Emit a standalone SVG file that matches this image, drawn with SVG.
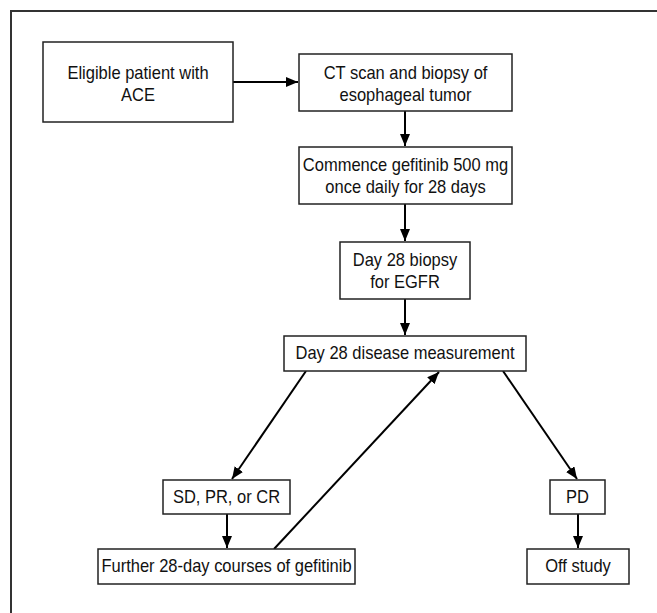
<svg xmlns="http://www.w3.org/2000/svg" width="657" height="613" viewBox="0 0 657 613">
<defs>
<marker id="ah" markerUnits="userSpaceOnUse" markerWidth="13" markerHeight="11" refX="12" refY="5" orient="auto">
<path d="M0,0 L12,5 L0,10 z" fill="#000"/>
</marker>
<style>
.box{fill:#fff;stroke:#222;stroke-width:1.5}
.t{font-family:"Liberation Sans",Arial,sans-serif;font-size:18px;fill:#111;text-anchor:middle}
.c{stroke:#000;stroke-width:2;fill:none;marker-end:url(#ah)}
</style>
</defs>
<rect width="657" height="613" fill="#fff"/>
<g id="frame"><path d="M11,613 V11 H657" fill="none" stroke="#333" stroke-width="2"/></g>
<g id="connectors">
<line class="c" x1="233" y1="82" x2="298" y2="82"/>
<line class="c" x1="405" y1="111" x2="405" y2="146"/>
<line class="c" x1="405" y1="204" x2="405" y2="241"/>
<line class="c" x1="405" y1="299" x2="405" y2="335"/>
<line class="c" x1="306" y1="371" x2="232" y2="479"/>
<line class="c" x1="503" y1="371" x2="577" y2="479"/>
<line class="c" x1="227" y1="514" x2="227" y2="548"/>
<line class="c" x1="578" y1="514" x2="578" y2="548"/>
<line class="c" x1="274" y1="549" x2="439" y2="372"/>
</g>
<g id="n1"><rect class="box" x="43" y="42" width="190" height="80"/><text class="t" transform="matrix(0.917,0,0,1,138,0)" x="0" y="79.5">Eligible patient with</text><text class="t" transform="matrix(0.917,0,0,1,138,0)" x="0" y="101.5">ACE</text></g>
<g id="n2"><rect class="box" x="299" y="54" width="213" height="57"/><text class="t" transform="matrix(0.917,0,0,1,405.5,0)" x="0" y="79.5">CT scan and biopsy of</text><text class="t" transform="matrix(0.917,0,0,1,405.5,0)" x="0" y="101.5">esophageal tumor</text></g>
<g id="n3"><rect class="box" x="299" y="147" width="213" height="57"/><text class="t" transform="matrix(0.917,0,0,1,405.5,0)" x="0" y="171.5">Commence gefitinib 500 mg</text><text class="t" transform="matrix(0.917,0,0,1,405.5,0)" x="0" y="193.5">once daily for 28 days</text></g>
<g id="n4"><rect class="box" x="340" y="242" width="130" height="57"/><text class="t" transform="matrix(0.917,0,0,1,405,0)" x="0" y="266.5">Day 28 biopsy</text><text class="t" transform="matrix(0.917,0,0,1,405,0)" x="0" y="288.5">for EGFR</text></g>
<g id="n5"><rect class="box" x="284" y="336" width="242" height="35"/><text class="t" transform="matrix(0.917,0,0,1,405,0)" x="0" y="359.5">Day 28 disease measurement</text></g>
<g id="n6"><rect class="box" x="163" y="480" width="127" height="34"/><text class="t" transform="matrix(0.917,0,0,1,226.5,0)" x="0" y="503.5">SD, PR, or CR</text></g>
<g id="n7"><rect class="box" x="98" y="549" width="257" height="35"/><text class="t" transform="matrix(0.917,0,0,1,226.5,0)" x="0" y="572.5">Further 28-day courses of gefitinib</text></g>
<g id="n8"><rect class="box" x="550" y="480" width="55" height="34"/><text class="t" transform="matrix(0.917,0,0,1,577.5,0)" x="0" y="503.5">PD</text></g>
<g id="n9"><rect class="box" x="527" y="549" width="102" height="35"/><text class="t" transform="matrix(0.917,0,0,1,578,0)" x="0" y="572.5">Off study</text></g>
</svg>
